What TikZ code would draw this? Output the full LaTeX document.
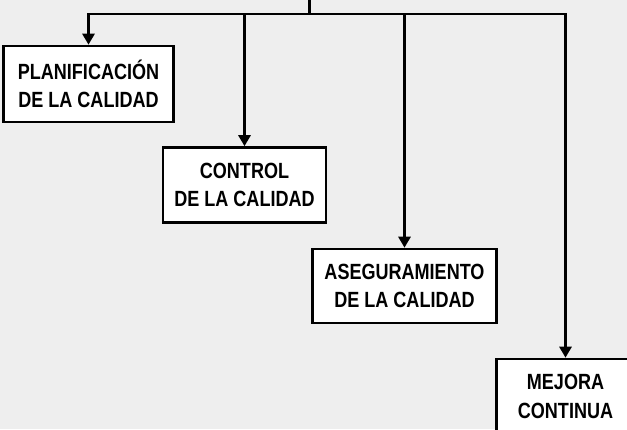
\documentclass[tikz,border=0pt]{standalone}
\usepackage{fontspec}
\newfontfamily\boxfont[FakeStretch=0.82]{Liberation Sans}
\usetikzlibrary{arrows.meta}
\definecolor{bg}{RGB}{238,238,238}
\tikzset{
  box/.style={draw=black, fill=white, line width=2.6pt, align=center,
    inner sep=0pt, font=\fontsize{22}{28.5}\selectfont\boxfont\bfseries},
  ln/.style={line width=2.8pt, line join=miter},
  arr/.style={ln, -{Triangle[width=12pt,length=11pt]}}
}
\begin{document}
\begin{tikzpicture}[x=1pt,y=-1pt]
\fill[bg] (0,0) rectangle (627,429);
\useasboundingbox (0,0) rectangle (627,429);
\clip (0,0) rectangle (627,429);
\node[box, minimum width=170pt, minimum height=76pt] (p) at (88.5,84) {PLANIFICACIÓN\\DE LA CALIDAD};
\node[box, minimum width=163pt, minimum height=75pt] (c) at (244.5,185) {CONTROL\\DE LA CALIDAD};
\node[box, minimum width=184pt, minimum height=74pt] (a) at (404.5,286) {ASEGURAMIENTO\\DE LA CALIDAD};
\node[box, minimum width=138pt, minimum height=75pt] (m) at (565.5,396.5) {MEJORA\\CONTINUA};
\coordinate (root) at (309.5,-3);
\coordinate (bus) at (309.5,14);
\draw[ln] (root) -- (bus);
\draw[arr] (bus) -| (p.north);
\draw[arr] (bus) -| (c.north);
\draw[arr] (bus) -| (a.north);
\draw[arr] (bus) -| (m.north);
\end{tikzpicture}
\end{document}
